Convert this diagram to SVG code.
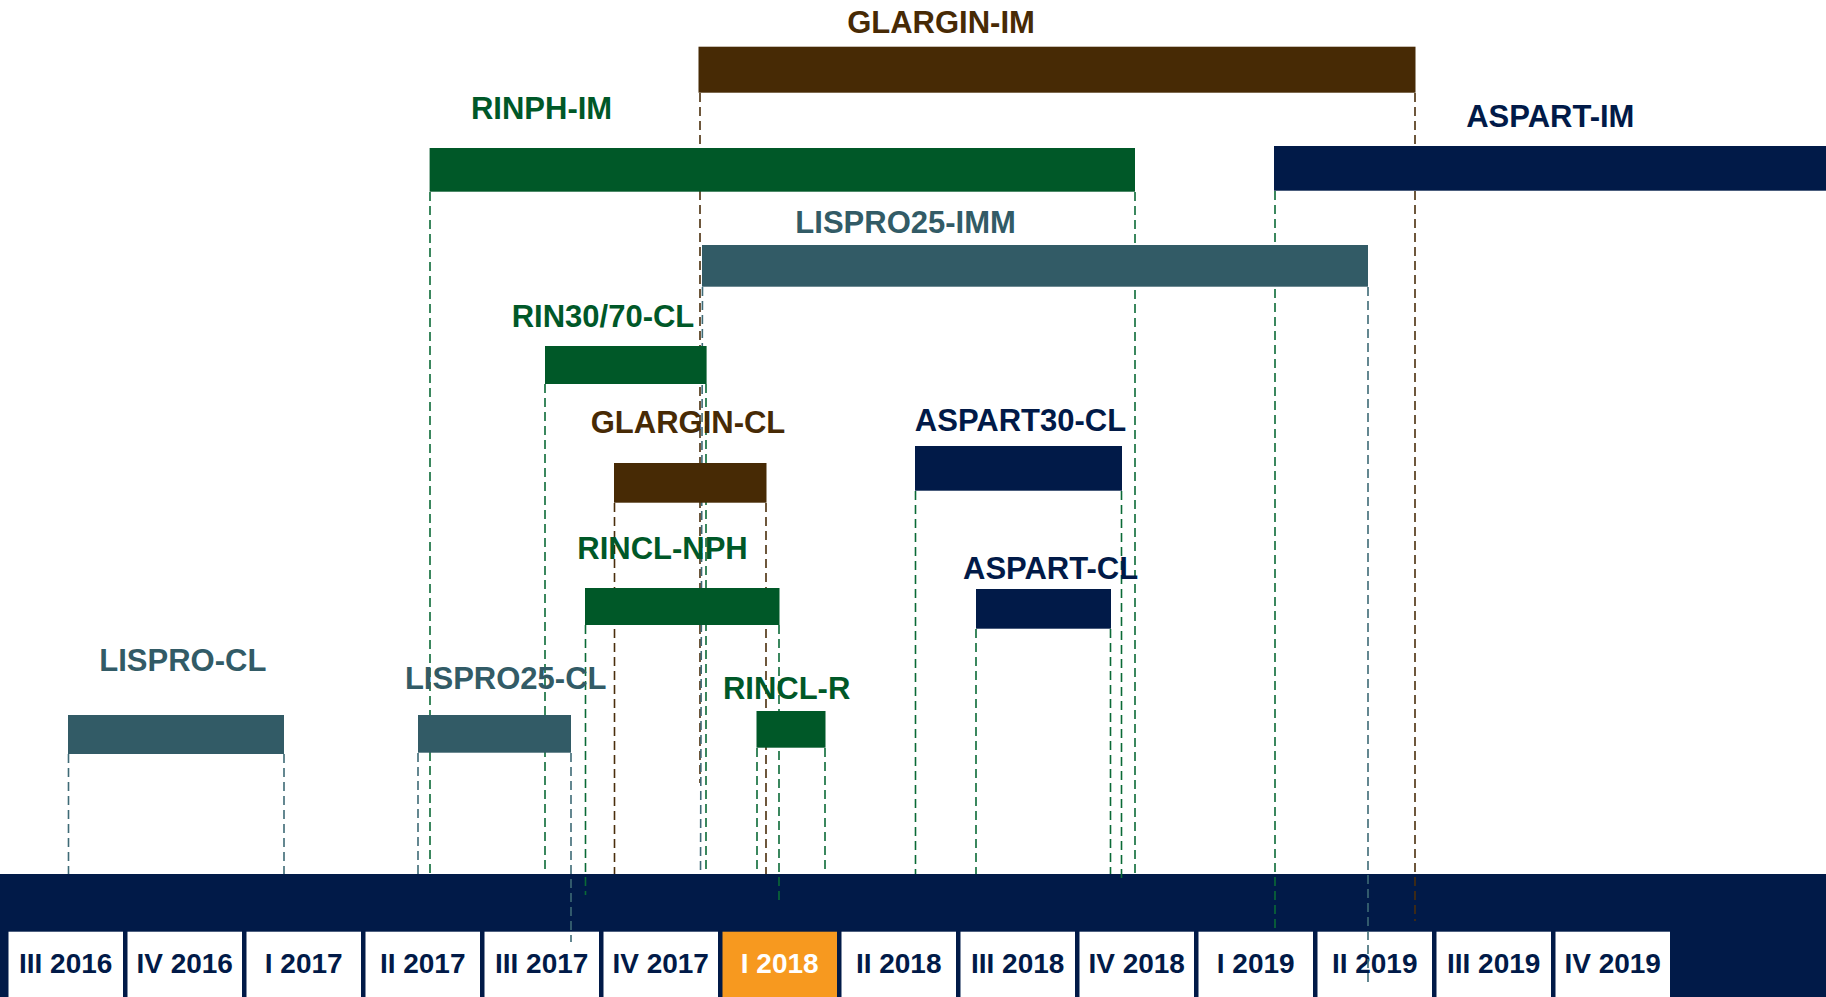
<svg xmlns="http://www.w3.org/2000/svg" width="1826" height="997" viewBox="0 0 1826 997">
<defs>
<style>
.lbl{font-family:"Liberation Sans",Arial,sans-serif;font-weight:bold;font-size:31px;text-anchor:middle}
.q{font-family:"Liberation Sans",Arial,sans-serif;font-weight:bold;font-size:28px;text-anchor:middle;fill:#011a48}
.box{fill:#ffffff}
.brown{fill:#472a05}
.green{fill:#005828}
.navy{fill:#011a48}
.teal{fill:#325b66}
.d{fill:none;stroke-width:1.6;stroke-dasharray:9 5}
.db{stroke:#4a2e0c}
.dg{stroke:#0a6a36}
.dt{stroke:#3e6a76}
</style>
</defs>
<rect width="1826" height="997" fill="#ffffff"/>
<g id="timeline">
<rect x="0" y="874" width="1826" height="123" fill="#011a48"/>
<g id="q-III-2016"><rect class="box" x="8.5" y="931.7" width="114.5" height="66"/><text class="q" x="65.7" y="973">III 2016</text></g>
<g id="q-IV-2016"><rect class="box" x="127.5" y="931.7" width="114.5" height="66"/><text class="q" x="184.7" y="973">IV 2016</text></g>
<g id="q-I-2017"><rect class="box" x="246.5" y="931.7" width="114.5" height="66"/><text class="q" x="303.7" y="973">I 2017</text></g>
<g id="q-II-2017"><rect class="box" x="365.5" y="931.7" width="114.5" height="66"/><text class="q" x="422.7" y="973">II 2017</text></g>
<g id="q-III-2017"><rect class="box" x="484.5" y="931.7" width="114.5" height="66"/><text class="q" x="541.7" y="973">III 2017</text></g>
<g id="q-IV-2017"><rect class="box" x="603.5" y="931.7" width="114.5" height="66"/><text class="q" x="660.7" y="973">IV 2017</text></g>
<g id="q-I-2018"><rect x="722.5" y="931.7" width="114.5" height="66" fill="#f7991f"/><text class="q" x="779.7" y="973" style="fill:#ffffff">I 2018</text></g>
<g id="q-II-2018"><rect class="box" x="841.5" y="931.7" width="114.5" height="66"/><text class="q" x="898.7" y="973">II 2018</text></g>
<g id="q-III-2018"><rect class="box" x="960.5" y="931.7" width="114.5" height="66"/><text class="q" x="1017.7" y="973">III 2018</text></g>
<g id="q-IV-2018"><rect class="box" x="1079.5" y="931.7" width="114.5" height="66"/><text class="q" x="1136.7" y="973">IV 2018</text></g>
<g id="q-I-2019"><rect class="box" x="1198.5" y="931.7" width="114.5" height="66"/><text class="q" x="1255.7" y="973">I 2019</text></g>
<g id="q-II-2019"><rect class="box" x="1317.5" y="931.7" width="114.5" height="66"/><text class="q" x="1374.7" y="973">II 2019</text></g>
<g id="q-III-2019"><rect class="box" x="1436.5" y="931.7" width="114.5" height="66"/><text class="q" x="1493.7" y="973">III 2019</text></g>
<g id="q-IV-2019"><rect class="box" x="1555.5" y="931.7" width="114.5" height="66"/><text class="q" x="1612.7" y="973">IV 2019</text></g>
</g>
<g id="connectors">
<line class="d db" x1="700" y1="93" x2="700" y2="783"/>
<line class="d db" x1="1415" y1="93" x2="1415" y2="921"/>
<line class="d dg" x1="430" y1="192" x2="430" y2="874"/>
<line class="d dg" x1="1135" y1="192" x2="1135" y2="874"/>
<line class="d dg" x1="1275" y1="191" x2="1275" y2="928"/>
<line class="d dt" x1="702.5" y1="287" x2="700.5" y2="874"/>
<line class="d dt" x1="1368" y1="287" x2="1368" y2="986"/>
<line class="d dg" x1="545" y1="384" x2="545" y2="869"/>
<line class="d dg" x1="706" y1="384" x2="706" y2="874"/>
<line class="d db" x1="614.5" y1="503" x2="614.5" y2="874"/>
<line class="d db" x1="766" y1="503" x2="766" y2="874"/>
<line class="d dg" x1="915.5" y1="491" x2="915.5" y2="874"/>
<line class="d dg" x1="1121.5" y1="491" x2="1121.5" y2="878"/>
<line class="d dg" x1="585.5" y1="625" x2="585.5" y2="895"/>
<line class="d dg" x1="779" y1="625" x2="779" y2="902"/>
<line class="d dg" x1="976" y1="629" x2="976" y2="874"/>
<line class="d dg" x1="1110.5" y1="629" x2="1110.5" y2="874"/>
<line class="d dt" x1="68.5" y1="754" x2="68.5" y2="874"/>
<line class="d dt" x1="284" y1="754" x2="284" y2="874"/>
<line class="d dt" x1="418" y1="753" x2="418" y2="874"/>
<line class="d dt" x1="571" y1="753" x2="571" y2="942"/>
<line class="d dg" x1="757" y1="748" x2="757" y2="874"/>
<line class="d dg" x1="825" y1="748" x2="825" y2="874"/>
</g>
<g id="GLARGIN-IM"><rect class="brown" x="698.5" y="46.7" width="717" height="46"/><text class="lbl brown" x="941" y="33.3">GLARGIN-IM</text></g>
<g id="RINPH-IM"><rect class="green" x="429.6" y="148" width="705.4" height="43.7"/><text class="lbl green" x="541.6" y="119.3">RINPH-IM</text></g>
<g id="ASPART-IM"><rect class="navy" x="1274" y="146" width="552" height="44.7"/><text class="lbl navy" x="1550.3" y="126.7">ASPART-IM</text></g>
<g id="LISPRO25-IMM"><rect class="teal" x="702" y="245" width="666" height="41.7"/><text class="lbl teal" x="905.6" y="232.7">LISPRO25-IMM</text></g>
<g id="RIN30-70-CL"><rect class="green" x="545" y="346" width="161.6" height="38"/><text class="lbl green" x="603" y="327.3">RIN30/70-CL</text></g>
<g id="GLARGIN-CL"><rect class="brown" x="614" y="463" width="152.5" height="39.7"/><text class="lbl brown" x="688" y="432.7">GLARGIN-CL</text></g>
<g id="ASPART30-CL"><rect class="navy" x="915" y="446" width="207" height="44.7"/><text class="lbl navy" x="1020.5" y="431">ASPART30-CL</text></g>
<g id="RINCL-NPH"><rect class="green" x="585" y="588" width="194.5" height="37"/><text class="lbl green" x="662.5" y="559.3">RINCL-NPH</text></g>
<g id="ASPART-CL"><rect class="navy" x="976" y="589" width="135" height="39.7"/><text class="lbl navy" x="1050.6" y="578.7">ASPART-CL</text></g>
<g id="LISPRO-CL"><rect class="teal" x="68" y="715" width="216" height="39"/><text class="lbl teal" x="182.8" y="670.7">LISPRO-CL</text></g>
<g id="LISPRO25-CL"><rect class="teal" x="418" y="715" width="153" height="37.7"/><text class="lbl teal" x="505.7" y="689">LISPRO25-CL</text></g>
<g id="RINCL-R"><rect class="green" x="756.5" y="711" width="69" height="36.7"/><text class="lbl green" x="786.6" y="699">RINCL-R</text></g>
</svg>
